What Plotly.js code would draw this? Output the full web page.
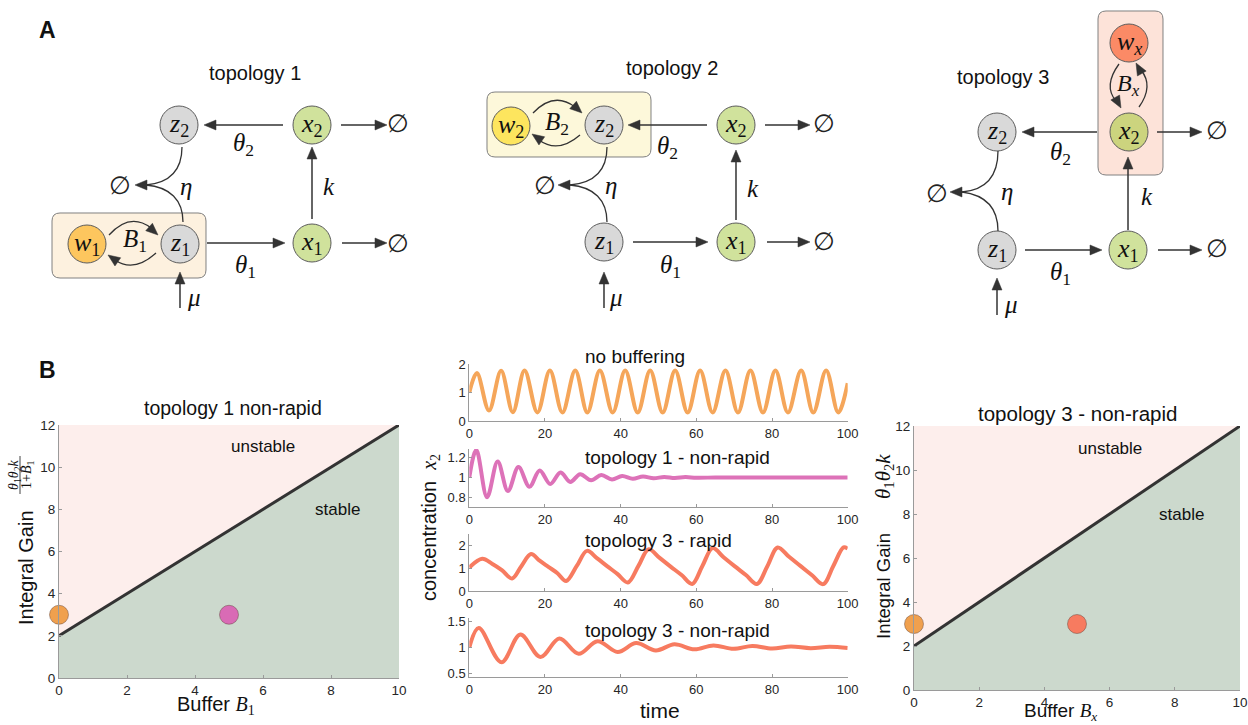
<!DOCTYPE html>
<html><head><meta charset="utf-8">
<script src="https://cdn.plot.ly/plotly-3.0.1.min.js"></script>
<style>html,body{margin:0;padding:0;background:#fff}#chart{width:1248px;height:725px}</style>
</head><body><div id="chart"></div>
<script>
// ---------------- DATA ----------------
// Panel B stability diagrams
const bufferRange = [0, 10];
const gainBoundary = [2, 12];
const gainTop = [12, 12];
const topo1PointsBuffer = [0, 5];
const topo1PointsGain = [3, 3];
const topo3PointsBuffer = [0, 5];
const topo3PointsGain = [3, 3];

// Time series (x2 concentration)
const tNoBuffering = [0, 2.0, 5.2, 8.4, 11.5, 14.6, 18.0, 21.3, 24.6, 28.0, 31.2, 34.5, 37.9, 41.2, 44.5, 47.8, 51.1, 54.4, 57.7, 61.0, 64.3, 67.7, 71.0, 74.3, 77.6, 80.9, 84.2, 87.7, 90.9, 94.3, 97.5, 100];
const x2NoBuffering = [1.0, 1.68, 0.37, 1.76, 0.31, 1.77, 0.30, 1.77, 0.30, 1.77, 0.30, 1.77, 0.30, 1.77, 0.30, 1.77, 0.30, 1.77, 0.30, 1.77, 0.30, 1.77, 0.30, 1.77, 0.30, 1.77, 0.30, 1.77, 0.30, 1.77, 0.30, 1.33];

const tTopo1NonRapid = [0, 1.85, 4.7, 7.5, 10.2, 13.0, 15.9, 18.6, 21.4, 24.1, 26.7, 29.3, 32.2, 34.9, 37.7, 40.4, 43.2, 45.9, 48.7, 51.5, 54.3, 57.1, 60, 65, 70, 80, 90, 100];
const x2Topo1NonRapid = [1.0, 1.28, 0.80, 1.164, 0.863, 1.106, 0.907, 1.072, 0.934, 1.05, 0.955, 1.034, 0.972, 1.025, 0.98, 1.015, 0.987, 1.01, 0.992, 1.006, 0.995, 1.004, 0.998, 1.0, 1.0, 1.0, 1.0, 1.0];

const tTopo3Rapid = [0, 3.4, 6.0, 8.6, 11.3, 13.8, 16.3, 18.6, 21.0, 23.3, 25.6, 28.4, 31.1, 33.8, 36.5, 39.2, 41.9, 44.7, 47.4, 50.3, 53.2, 56.1, 58.9, 61.6, 64.3, 67.2, 70.1, 73.1, 76.0, 78.8, 81.5, 84.5, 87.5, 90.5, 93.5, 96.2, 98.9, 100];
const x2Topo3Rapid = [1.03, 1.41, 1.2, 0.92, 0.55, 1.1, 1.62, 1.33, 1.05, 0.78, 0.44, 1.1, 1.76, 1.43, 1.08, 0.74, 0.37, 1.1, 1.83, 1.45, 1.07, 0.7, 0.31, 1.1, 1.88, 1.48, 1.09, 0.7, 0.31, 1.1, 1.91, 1.5, 1.1, 0.7, 0.30, 1.1, 1.91, 1.86];

const tTopo3NonRapid = [0, 2.5, 8.5, 13.5, 18.8, 23.8, 28.9, 33.9, 39.2, 44.1, 49.3, 54.2, 59.5, 64.5, 69.8, 74.8, 80.0, 85.0, 90.2, 95.2, 100];
const x2Topo3NonRapid = [1.0, 1.37, 0.72, 1.245, 0.82, 1.17, 0.88, 1.12, 0.915, 1.085, 0.945, 1.06, 0.965, 1.04, 0.975, 1.03, 0.982, 1.02, 0.987, 1.012, 0.99];

// tick labels
const timeTicks = [0, 20, 40, 60, 80, 100];
const ticksP1 = [0, 1, 2];        const ticksP1Text = ['0', '1', '2'];
const ticksP2 = [0.8, 1, 1.2];    const ticksP2Text = ['0.8', '1', '1.2'];
const ticksP3 = [0, 1, 2];        const ticksP3Text = ['0', '1', '2'];
const ticksP4 = [0.5, 1, 1.5];    const ticksP4Text = ['0.5', '1', '1.5'];

// ---------------- HELPERS ----------------
const W = 1248, H = 725;
const X = p => p / W, Y = p => 1 - p / H;
const pt = (x, y) => X(x).toFixed(5) + ',' + Y(y).toFixed(5);
const SANS = 'Liberation Sans, Arial, Helvetica, sans-serif';
const SERIF = 'Liberation Serif, DejaVu Serif, serif';
const INK = '#333333';
const MS = '<span style="font-family:Liberation Serif, serif">';

const shapes = [], annotations = [];

function text(px, py, t, size, opts) {
  annotations.push(Object.assign({xref: 'paper', yref: 'paper', x: X(px), y: Y(py), text: t, showarrow: false,
    xanchor: 'center', yanchor: 'middle', font: {family: SANS, size: size, color: '#111'}}, opts || {}));
}
function mtext(px, py, t, size, extra) {
  text(px, py, t, size || 25, Object.assign({font: {family: SERIF, size: size || 25, color: '#111'}}, extra || {}));
}
function pathOf(s) { return s.replace(/(-?[\d.]+),(-?[\d.]+)/g, (m, a, b) => pt(+a, +b)); }
function node(cx, cy, fill, label) {
  shapes.push({type: 'circle', xref: 'paper', yref: 'paper', x0: X(cx - 19), x1: X(cx + 19), y0: Y(cy + 19), y1: Y(cy - 19),
    fillcolor: fill, line: {color: '#5c5c5c', width: 1}});
  mtext(cx, cy, label, 26);
}
function head(tx, ty, dx, dy) {
  const L = Math.hypot(dx, dy); dx /= L; dy /= L;
  const len = 12, w = 5, bx = tx - dx * len, by = ty - dy * len, nx = -dy, ny = dx;
  shapes.push({type: 'path', xref: 'paper', yref: 'paper',
    path: `M${pt(tx, ty)} L${pt(bx + nx * w, by + ny * w)} L${pt(bx - nx * w, by - ny * w)} Z`,
    fillcolor: INK, line: {color: INK, width: 0.5}});
}
function arrow(x1, y1, x2, y2) {
  const dx = x2 - x1, dy = y2 - y1, L = Math.hypot(dx, dy);
  shapes.push({type: 'path', xref: 'paper', yref: 'paper', path: `M${pt(x1, y1)} L${pt(x2 - dx / L * 9, y2 - dy / L * 9)}`,
    line: {color: INK, width: 1.5}});
  head(x2, y2, dx, dy);
}
function curve(s, w) {
  shapes.push({type: 'path', xref: 'paper', yref: 'paper', path: pathOf(s), line: {color: INK, width: w || 1.3}});
}
function rrect(x0, y0, x1, y1, r, fill) {
  const s = `M${x0 + r},${y0} L${x1 - r},${y0} Q${x1},${y0} ${x1},${y0 + r} L${x1},${y1 - r} Q${x1},${y1} ${x1 - r},${y1} L${x0 + r},${y1} Q${x0},${y1} ${x0},${y1 - r} L${x0},${y0 + r} Q${x0},${y0} ${x0 + r},${y0} Z`;
  shapes.push({type: 'path', xref: 'paper', yref: 'paper', path: pathOf(s), fillcolor: fill, line: {color: '#808080', width: 1}});
}
const empty = (x, y) => text(x, y, '∅', 25, {font: {family: 'DejaVu Serif, serif', size: 25, color: '#222'}});
const GRAY = '#d9d9d9', GREEN = '#d0e29c';

// ---------------- PANEL A ----------------
text(47, 30, '<b>A</b>', 23);
text(47, 370, '<b>B</b>', 23);

// topology 1
text(255, 73, 'topology 1', 20);
rrect(52, 213, 206, 278, 8, '#fdf1df');
node(179, 125, GRAY, '<i>z</i><sub>2</sub>');
node(312, 125, GREEN, '<i>x</i><sub>2</sub>');
node(180, 244, GRAY, '<i>z</i><sub>1</sub>');
node(312, 243, GREEN, '<i>x</i><sub>1</sub>');
node(87, 244, '#fdc65e', '<i>w</i><sub>1</sub>');
arrow(283, 125, 204, 125);
arrow(341, 125, 387, 125); empty(398, 124);
arrow(207, 243, 285, 243);
arrow(342, 243, 387, 243); empty(398, 243);
arrow(312, 219, 312, 147);
arrow(180, 308, 180, 272);
curve('M182,147 C182,172 168,183 146,185');
curve('M183,222 C183,200 170,187 146,185');
head(135, 185, -1, 0); empty(120, 185);
curve('M109,235 Q130,212 151,228'); head(158, 235, 1, 0.9);
curve('M156,253 Q134,273 115,260'); head(108, 255, -1, -0.7);
mtext(135, 240, '<i>B</i><sub>1</sub>');
mtext(186, 187, '<i>η</i>');
mtext(329, 187, '<i>k</i>');
mtext(243, 145, '<i>θ</i><sub>2</sub>');
mtext(245, 267, '<i>θ</i><sub>1</sub>');
mtext(194, 297, '<i>μ</i>');

// topology 2
text(672, 68, 'topology 2', 20);
rrect(487, 92, 651, 157, 8, '#fdf8da');
node(511, 126, '#fde55e', '<i>w</i><sub>2</sub>');
node(604, 125, GRAY, '<i>z</i><sub>2</sub>');
node(736, 125, GREEN, '<i>x</i><sub>2</sub>');
node(604, 242, GRAY, '<i>z</i><sub>1</sub>');
node(736, 242, GREEN, '<i>x</i><sub>1</sub>');
arrow(707, 125, 628, 125);
arrow(765, 125, 810, 125); empty(824, 124);
arrow(633, 242, 708, 242);
arrow(767, 242, 810, 242); empty(824, 242);
arrow(736, 220, 736, 150);
arrow(604, 308, 604, 272);
curve('M607,147 C607,172 593,183 570,185');
curve('M607,222 C607,200 594,187 570,185');
head(558, 185, -1, 0); empty(545, 185);
curve('M533,113 Q554,91 575,107'); head(582, 113, 1, 0.9);
curve('M580,135 Q558,154 539,140'); head(532, 134, -1, -0.7);
mtext(557, 123, '<i>B</i><sub>2</sub>');
mtext(611, 185, '<i>η</i>');
mtext(753, 188, '<i>k</i>');
mtext(667, 147, '<i>θ</i><sub>2</sub>');
mtext(670, 267, '<i>θ</i><sub>1</sub>');
mtext(616, 297, '<i>μ</i>');

// topology 3
text(1003, 77, 'topology 3', 20);
rrect(1098, 11, 1163, 175, 8, '#fde3d9');
node(1129, 43, '#fb8a66', '<i>w</i><sub><i>x</i></sub>');
node(1129, 132, '#ccd47e', '<i>x</i><sub>2</sub>');
node(997, 132, GRAY, '<i>z</i><sub>2</sub>');
node(997, 250, GRAY, '<i>z</i><sub>1</sub>');
node(1128, 250, GREEN, '<i>x</i><sub>1</sub>');
arrow(1097, 132, 1022, 132);
arrow(1157, 132, 1202, 132); empty(1217, 131);
arrow(1025, 250, 1102, 250);
arrow(1158, 250, 1202, 250); empty(1217, 249);
arrow(1128, 230, 1128, 157);
arrow(997, 315, 997, 278);
curve('M998,151 C998,178 985,190 962,192');
curve('M998,231 C998,208 985,195 962,192');
head(950, 192, -1, 0); empty(937, 193);
curve('M1119,64 Q1103,86 1116,101'); head(1121, 108, 0.55, 1);
curve('M1139,107 Q1154,86 1141,70'); head(1136, 63, -0.55, -1);
mtext(1128, 85, '<i>B</i><sub><i>x</i></sub>', 24);
mtext(1007, 192, '<i>η</i>');
mtext(1147, 197, '<i>k</i>');
mtext(1060, 153, '<i>θ</i><sub>2</sub>');
mtext(1060, 273, '<i>θ</i><sub>1</sub>');
mtext(1011, 304, '<i>μ</i>');

// ---------------- PANEL B annotations ----------------
text(233, 408, 'topology 1 non-rapid', 19.5);
text(1077, 413, 'topology 3 - non-rapid', 20.5);
text(6, 11, 'unstable', 17, {xref: 'x', yref: 'y', x: 6, y: 11});
text(8.2, 8, 'stable', 17, {xref: 'x', yref: 'y', x: 8.2, y: 8});
text(6, 11, 'unstable', 17, {xref: 'x2', yref: 'y2', x: 6, y: 11});
text(8.2, 8, 'stable', 17, {xref: 'x2', yref: 'y2', x: 8.2, y: 8});
text(26, 568, 'Integral Gain', 20, {textangle: -90});
mtext(14, 475, '<i>θ</i><sub>1</sub><i>θ</i><sub>2</sub><i>k</i>', 14, {textangle: -90});
mtext(27, 475, '1+<i>B</i><sub>1</sub>', 14, {textangle: -90});
shapes.push({type: 'line', xref: 'paper', yref: 'paper', x0: X(20), x1: X(20), y0: Y(456), y1: Y(494), line: {color: '#111', width: 0.8}});
text(216, 705, 'Buffer ' + MS + '<i>B</i><sub>1</sub></span>', 20);
text(883, 586, 'Integral Gain', 18.5, {textangle: -90});
mtext(884, 477, '<i>θ</i><sub>1</sub><i>θ</i><sub>2</sub><i>k</i>', 21, {textangle: -90});
text(1060, 712, 'Buffer ' + MS + '<i>B</i><sub><i>x</i></sub></span>', 19);

text(583, 356, 'no buffering', 19, {xanchor: 'left'});
text(583, 458, 'topology 1 - non-rapid', 19, {xanchor: 'left'});
text(583, 540, 'topology 3 - rapid', 19, {xanchor: 'left'});
text(583, 630, 'topology 3 - non-rapid', 19, {xanchor: 'left'});
text(430, 528, 'concentration  ' + MS + '<i>x</i><sub>2</sub></span>', 20, {textangle: -90});
text(660, 710, 'time', 21);

// ---------------- TRACES ----------------
const ORANGE = '#f0a04e', PINK = '#d96bb5', CORAL = '#f77b60';
const traces = [
  {x: bufferRange, y: gainTop, xaxis: 'x', yaxis: 'y', mode: 'lines', fill: 'tozeroy', fillcolor: '#fdeeec', line: {width: 0, color: '#fdeeec'}, hoverinfo: 'skip'},
  {x: bufferRange, y: gainBoundary, xaxis: 'x', yaxis: 'y', mode: 'lines', fill: 'tozeroy', fillcolor: '#ccd9cd', line: {color: '#333', width: 3}},
  {x: topo1PointsBuffer, y: topo1PointsGain, xaxis: 'x', yaxis: 'y', mode: 'markers', cliponaxis: false,
    marker: {size: 19, color: [ORANGE, PINK], line: {color: 'rgba(90,60,50,0.55)', width: 0.8}}},
  {x: bufferRange, y: gainTop, xaxis: 'x2', yaxis: 'y2', mode: 'lines', fill: 'tozeroy', fillcolor: '#fdeeec', line: {width: 0, color: '#fdeeec'}, hoverinfo: 'skip'},
  {x: bufferRange, y: gainBoundary, xaxis: 'x2', yaxis: 'y2', mode: 'lines', fill: 'tozeroy', fillcolor: '#ccd9cd', line: {color: '#333', width: 3}},
  {x: topo3PointsBuffer, y: topo3PointsGain, xaxis: 'x2', yaxis: 'y2', mode: 'markers', cliponaxis: false,
    marker: {size: 19, color: [ORANGE, CORAL], line: {color: 'rgba(90,60,50,0.55)', width: 0.8}}},
  {x: tNoBuffering, y: x2NoBuffering, xaxis: 'x3', yaxis: 'y3', mode: 'lines', line: {color: '#f5a65a', width: 4, shape: 'spline'}},
  {x: tTopo1NonRapid, y: x2Topo1NonRapid, xaxis: 'x4', yaxis: 'y4', mode: 'lines', line: {color: '#dd72b8', width: 4, shape: 'spline'}},
  {x: tTopo3Rapid, y: x2Topo3Rapid, xaxis: 'x5', yaxis: 'y5', mode: 'lines', line: {color: CORAL, width: 4, shape: 'spline'}},
  {x: tTopo3NonRapid, y: x2Topo3NonRapid, xaxis: 'x6', yaxis: 'y6', mode: 'lines', line: {color: CORAL, width: 4, shape: 'spline'}}
];

function ax(domain, range, extra) {
  return Object.assign({domain: domain, range: range, showgrid: false, zeroline: false, showline: true, mirror: false,
    linecolor: '#9a9a9a', linewidth: 1, ticks: 'inside', ticklen: 3, tickcolor: '#9a9a9a',
    tickfont: {family: SANS, size: 13, color: '#262626'}, fixedrange: true, layer: 'above traces'}, extra || {});
}
const midX = [X(469.3), X(847.7)];
const layout = {
  width: W, height: H, margin: {l: 0, r: 0, t: 0, b: 0}, showlegend: false,
  paper_bgcolor: '#ffffff', plot_bgcolor: 'rgba(0,0,0,0)',
  font: {family: SANS, color: '#222'},
  xaxis: ax([X(59), X(399)], [0, 10], {anchor: 'y', dtick: 2, tick0: 0, tickfont: {family: SANS, size: 13.5, color: '#262626'}}),
  yaxis: ax([Y(678), Y(425)], [0, 12], {anchor: 'x', dtick: 2, tick0: 0, tickfont: {family: SANS, size: 13.5, color: '#262626'}}),
  xaxis2: ax([X(914), X(1240)], [0, 10], {anchor: 'y2', dtick: 2, tick0: 0, tickfont: {family: SANS, size: 13.5, color: '#262626'}}),
  yaxis2: ax([Y(690), Y(426)], [0, 12], {anchor: 'x2', dtick: 2, tick0: 0, tickfont: {family: SANS, size: 13.5, color: '#262626'}}),
  xaxis3: ax(midX, [0, 100], {anchor: 'y3', tickmode: 'array', tickvals: timeTicks}),
  yaxis3: ax([Y(421), Y(364)], [0, 2], {anchor: 'x3', tickmode: 'array', tickvals: ticksP1, ticktext: ticksP1Text}),
  xaxis4: ax(midX, [0, 100], {anchor: 'y4', tickmode: 'array', tickvals: timeTicks}),
  yaxis4: ax([Y(507), Y(449)], [0.7, 1.29], {anchor: 'x4', tickmode: 'array', tickvals: ticksP2, ticktext: ticksP2Text}),
  xaxis5: ax(midX, [0, 100], {anchor: 'y5', tickmode: 'array', tickvals: timeTicks}),
  yaxis5: ax([Y(591), Y(534)], [0, 2.5], {anchor: 'x5', tickmode: 'array', tickvals: ticksP3, ticktext: ticksP3Text}),
  xaxis6: ax(midX, [0, 100], {anchor: 'y6', tickmode: 'array', tickvals: timeTicks}),
  yaxis6: ax([Y(677), Y(618)], [0.44, 1.56], {anchor: 'x6', tickmode: 'array', tickvals: ticksP4, ticktext: ticksP4Text}),
  shapes: shapes,
  annotations: annotations
};
Plotly.newPlot('chart', traces, layout, {displayModeBar: false, staticPlot: true});
</script>
</body></html>
